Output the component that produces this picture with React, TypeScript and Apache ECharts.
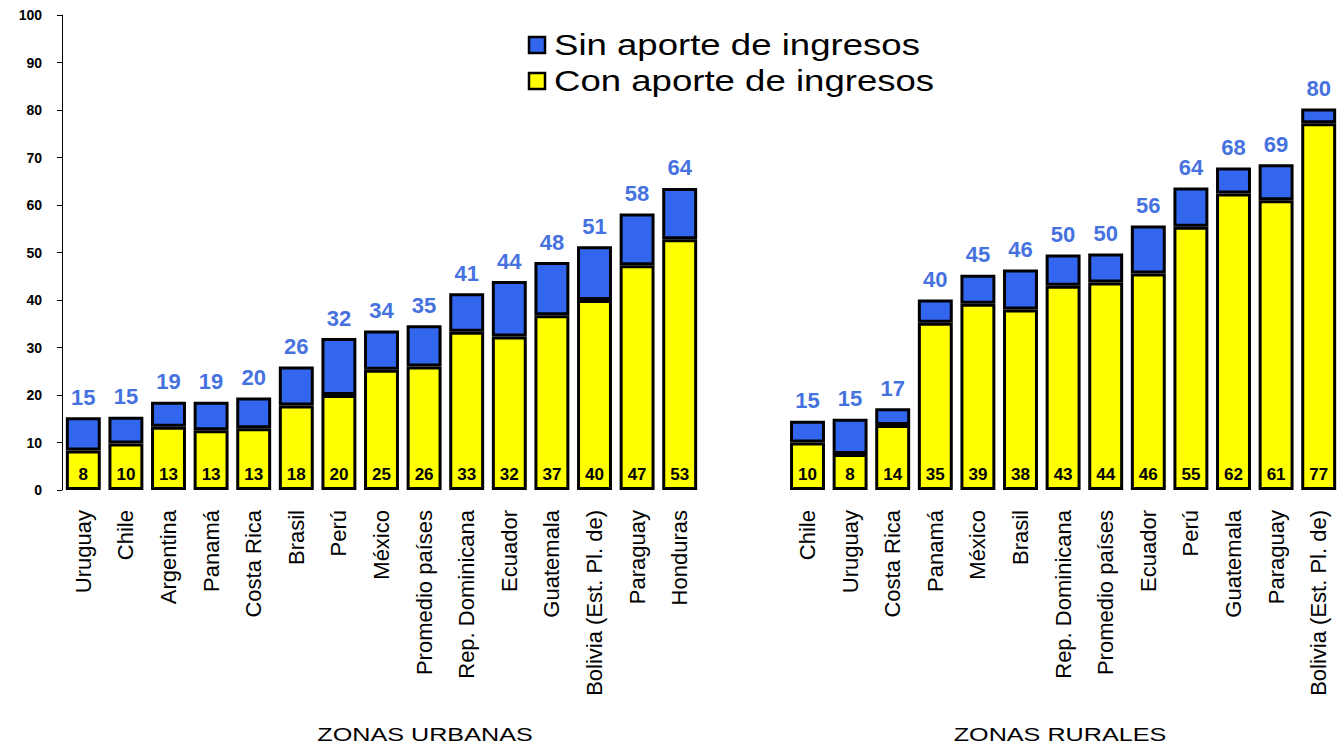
import React, { useEffect, useRef } from "react";
import * as echarts from "echarts";

const urbanCategories = [
  "Uruguay", "Chile", "Argentina", "Panamá", "Costa Rica", "Brasil", "Perú", "México",
  "Promedio países", "Rep. Dominicana", "Ecuador", "Guatemala", "Bolivia (Est. Pl. de)", "Paraguay", "Honduras",
];
const urbanCon = [8.3, 9.8, 13.3, 12.6, 13, 17.8, 20, 25.3, 26, 33.3, 32.3, 36.8, 40, 47.3, 52.8];
const urbanTotal = [15.3, 15.4, 18.6, 18.6, 19.5, 26, 32, 33.6, 34.7, 41.4, 44, 48, 51.3, 58.2, 63.6];

const ruralCategories = [
  "Chile", "Uruguay", "Costa Rica", "Panamá", "México", "Brasil", "Rep. Dominicana",
  "Promedio países", "Ecuador", "Perú", "Guatemala", "Paraguay", "Bolivia (Est. Pl. de)",
];
const ruralCon = [10, 7.6, 13.7, 35.2, 39.2, 38, 43, 43.7, 45.6, 55.4, 62.4, 61, 77.2];
const ruralTotal = [14.6, 15, 17.2, 40.1, 45.3, 46.4, 49.6, 49.8, 55.7, 63.7, 67.9, 68.6, 80.3];

const yTicks = { min: 0, max: 100, interval: 10 };
const groupTitles = ["ZONAS URBANAS", "ZONAS RURALES"];
const seriesNames = ["Sin aporte de ingresos", "Con aporte de ingresos"];
const seriesColors = ["#3366EE", "#FFFF00"];
const GAP = 2;

export default function App() {
  const ref = useRef<HTMLDivElement>(null);
  useEffect(() => {
    if (!ref.current) return;
    const chart = echarts.init(ref.current, null, { renderer: "svg" });
    const gap = Array(GAP).fill("");
    const categories = [...urbanCategories, ...gap, ...ruralCategories];
    const gapVals = Array(GAP).fill("-");
    const con = [...urbanCon, ...gapVals, ...ruralCon];
    const total = [...urbanTotal, ...gapVals, ...ruralTotal];
    const sin = total.map((t, i) => (t === "-" ? "-" : +((t as number) - (con[i] as number)).toFixed(2)));
    const font = "Liberation Sans, Arial, sans-serif";

    const legendItems = seriesNames.flatMap((name, i) => [
      {
        type: "rect",
        shape: { x: 529, y: 37 + i * 36, width: 16, height: 16 },
        style: { fill: seriesColors[i], stroke: "#000", lineWidth: 2.5 },
      },
      {
        type: "text",
        x: 554,
        y: 45 + i * 36,
        scaleX: 1.24,
        style: { text: name, fontFamily: font, fontSize: 29.5, fill: "#000", align: "left", verticalAlign: "middle" },
      },
    ]);

    chart.setOption({
      animation: false,
      backgroundColor: "#ffffff",
      grid: { left: 62, right: 4, top: 15, bottom: 258, containLabel: false },
      xAxis: {
        type: "category",
        data: categories,
        axisLine: { show: false },
        axisTick: { show: false },
        axisLabel: {
          interval: 0,
          rotate: 90,
          margin: 20,
          fontFamily: font,
          fontSize: 22,
          color: "#000",
        },
      },
      yAxis: {
        type: "value",
        min: yTicks.min,
        max: yTicks.max,
        interval: yTicks.interval,
        splitLine: { show: false },
        axisLine: { show: true, lineStyle: { color: "#000", width: 1 } },
        axisTick: { show: true, length: 5, lineStyle: { color: "#000" } },
        axisLabel: { margin: 20, fontFamily: font, fontSize: 14, fontWeight: "bold", color: "#000" },
      },
      series: [
        {
          name: seriesNames[1],
          type: "bar",
          stack: "s",
          data: con,
          barCategoryGap: "18%",
          itemStyle: { color: seriesColors[1], borderColor: "#000", borderWidth: 3 },
          label: {
            show: true,
            position: "insideBottom",
            distance: 7,
            fontFamily: font,
            fontSize: 17,
            fontWeight: "bold",
            color: "#000",
            formatter: (p: any) => String(Math.round(p.value)),
          },
        },
        {
          name: seriesNames[0],
          type: "bar",
          stack: "s",
          data: sin,
          barCategoryGap: "18%",
          itemStyle: { color: seriesColors[0], borderColor: "#000", borderWidth: 3 },
          label: {
            show: true,
            position: "top",
            distance: 9,
            fontFamily: font,
            fontSize: 22,
            fontWeight: "bold",
            color: "#4672E0",
            formatter: (p: any) => String(Math.round(total[p.dataIndex] as number)),
          },
        },
      ],
      graphic: [
        ...legendItems,
        {
          type: "text",
          x: 425,
          y: 735,
          scaleX: 1.4,
          style: { text: groupTitles[0], fontFamily: font, fontSize: 18, fill: "#000", align: "center", verticalAlign: "middle" },
        },
        {
          type: "text",
          x: 1060,
          y: 735,
          scaleX: 1.4,
          style: { text: groupTitles[1], fontFamily: font, fontSize: 18, fill: "#000", align: "center", verticalAlign: "middle" },
        },
      ],
    });
    return () => chart.dispose();
  }, []);
  return <div ref={ref} style={{ position: "fixed", left: 0, top: 0, width: 1344, height: 748 }} />;
}
